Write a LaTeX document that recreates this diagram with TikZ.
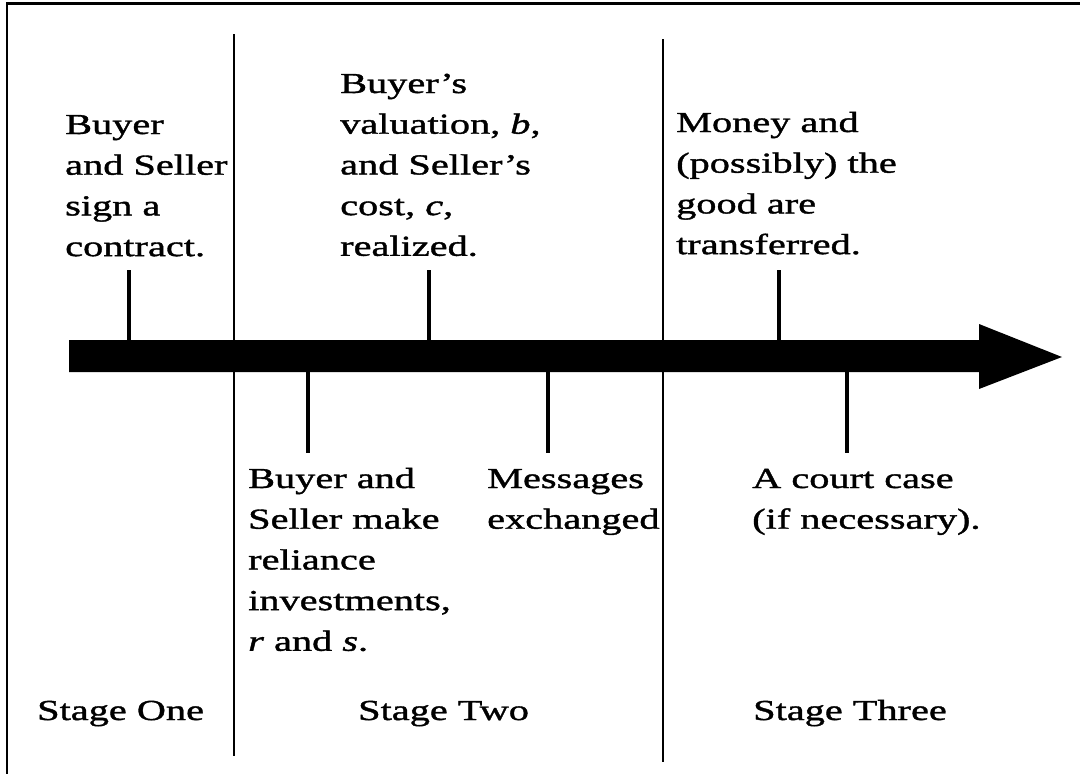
\documentclass[tikz,border=0pt]{standalone}
\usepackage{fontspec}
\setmainfont{Liberation Serif}[FakeStretch=1.39,FakeBold=1.3]
\newcommand{\blk}[1]{\begin{tabular}[t]{@{}l@{}}#1\end{tabular}}
\begin{document}
\begin{tikzpicture}[x=1pt,y=-1pt,
  lbl/.style={inner sep=0pt, anchor=base west, font=\fontsize{29}{40.7}\selectfont},
  tickline/.style={line width=4pt},
  divider/.style={line width=2pt},
  framel/.style={line width=2.5pt}]
\useasboundingbox (0,0) rectangle (1080,774);
% frame (top and left edges only)
\coordinate (ftl) at (7,3.5);
\coordinate (ftr) at (1080,3.5);
\coordinate (fbl) at (7,774);
\draw[framel] (ftr) -- (ftl) -- (fbl);
% stage dividers
\coordinate (d1t) at (234,34);
\coordinate (d1b) at (234,756);
\coordinate (d2t) at (663,39);
\coordinate (d2b) at (663,762);
\draw[divider] (d1t) -- (d1b);
\draw[divider] (d2t) -- (d2b);
% time arrow
\fill (69,340) -- (979,340) -- (979,324) -- (1062,357) -- (979,389) -- (979,372) -- (69,372) -- cycle;
% upper texts
\node[lbl] (tA) at (65,134) {\blk{Buyer\\and Seller\\sign a\\contract.}};
\node[lbl] (tB) at (340,93) {\blk{Buyer's\\valuation, \textit{b},\\and Seller's\\cost, \textit{c},\\realized.}};
\node[lbl] (tC) at (676,132) {\blk{Money and\\(possibly) the\\good are\\transferred.}};
% lower texts
\node[lbl] (tD) at (248,488) {\blk{Buyer and\\Seller make\\reliance\\investments,\\\textit{r} and \textit{s}.}};
\node[lbl] (tE) at (487,488) {\blk{Messages\\exchanged}};
\node[lbl] (tF) at (752,488) {\blk{A court case\\(if necessary).}};
% stage labels
\node[lbl] (s1) at (37,720) {Stage One};
\node[lbl] (s2) at (358,720) {Stage Two};
\node[lbl] (s3) at (753,720) {Stage Three};
% ticks
\coordinate (kAt) at (129,270); \coordinate (kAb) at (129,341);
\coordinate (kBt) at (429,270); \coordinate (kBb) at (429,341);
\coordinate (kCt) at (779,270); \coordinate (kCb) at (779,341);
\coordinate (kDt) at (308,371); \coordinate (kDb) at (308,453);
\coordinate (kEt) at (548,371); \coordinate (kEb) at (548,453);
\coordinate (kFt) at (847,371); \coordinate (kFb) at (847,453);
\draw[tickline] (kAt) -- (kAb);
\draw[tickline] (kBt) -- (kBb);
\draw[tickline] (kCt) -- (kCb);
\draw[tickline] (kDt) -- (kDb);
\draw[tickline] (kEt) -- (kEb);
\draw[tickline] (kFt) -- (kFb);
\end{tikzpicture}
\end{document}
